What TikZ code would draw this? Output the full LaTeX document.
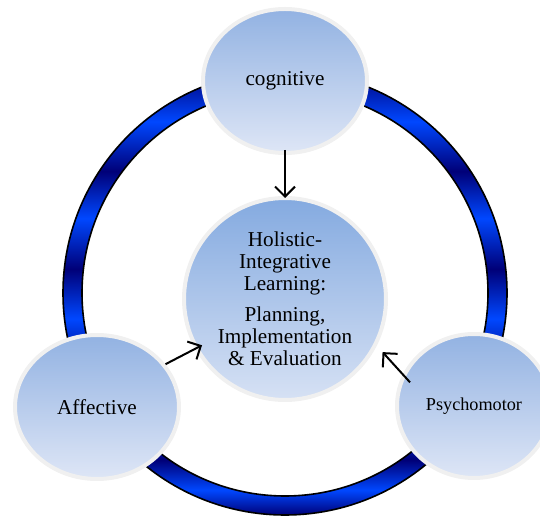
\documentclass[tikz,border=0pt]{standalone}
\usepackage{fontspec}
\setmainfont{Liberation Serif}
\usetikzlibrary{shapes.geometric,arrows.meta}

% metallic bands of the ring, bottom (25bp) to top (75bp)
\pgfdeclareverticalshading{ringshade}{100bp}{%
  rgb(0bp)=(0,0,0.47); rgb(25bp)=(0,0,0.47);
  rgb(27.8bp)=(0,0.28,1); rgb(31.2bp)=(0,0,0.47);
  rgb(35.8bp)=(0,0.28,1); rgb(41.4bp)=(0,0,0.47);
  rgb(47.1bp)=(0,0.28,1); rgb(52.7bp)=(0,0,0.47);
  rgb(58.4bp)=(0,0.28,1); rgb(63.7bp)=(0,0,0.47);
  rgb(69.3bp)=(0,0.28,1); rgb(75bp)=(0,0,0.47);
  rgb(100bp)=(0,0,0.47)}
\definecolor{discTop}{RGB}{146,178,226}
\definecolor{discBot}{RGB}{222,230,246}
\definecolor{hubTop}{RGB}{132,170,224}
\definecolor{hubBot}{RGB}{214,225,244}
\definecolor{rim}{RGB}{240,240,240}

\begin{document}
\begin{tikzpicture}[x=0.5pt,y=-0.5pt,
    satellite/.style={ellipse, draw=rim, line width=2pt, top color=discTop,
      bottom color=discBot, minimum width=82pt, minimum height=72pt,
      inner sep=0pt, font=\fontsize{10.6}{12}\selectfont},
    hubnode/.style={circle, draw=rim, line width=2pt, top color=hubTop,
      bottom color=hubBot, minimum size=101pt, inner sep=0pt, align=center,
      font=\fontsize{10.6}{11}\selectfont},
    arr/.style={-{Straight Barb[length=5pt,width=10pt]}, line width=1pt}]
    \useasboundingbox (0,0) rectangle (540,517);
    % the ring behind everything
    \coordinate (ctr) at (285,293);
    \shade[shading=ringshade, even odd rule] (ctr) circle[radius=222] (ctr) circle[radius=203];
    \draw[line width=0.8pt] (ctr) circle[radius=222] (ctr) circle[radius=203];
    % discs
    \node[hubnode] (hub) at (285,299) {Holistic-\\Integrative\\Learning:\\[4.5pt]Planning,\\Implementation\\\& Evaluation};
    \node[satellite] (cog) at (285,81) {cognitive};
    \node[satellite] (aff) at (97,407) {Affective};
    \node[satellite, minimum width=77pt, font=\fontsize{9.1}{11}\selectfont] (psy) at (474,406) {Psychomotor};
    % arrows into the hub
    \draw[arr, shorten <=-2.5pt, shorten >=-1pt] (cog.south) -- (hub.north);
    \draw[arr, shorten >=-4pt] (aff.32) -- (hub.209);
    \draw[arr, shorten <=-5.5pt, shorten >=4.3pt] (psy.156) -- (hub.-27);
\end{tikzpicture}
\end{document}
